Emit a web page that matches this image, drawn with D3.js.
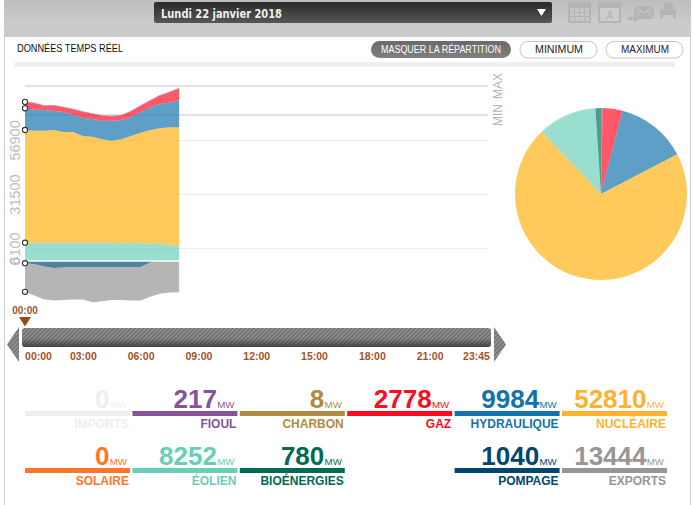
<!DOCTYPE html>
<html>
<head>
<meta charset="utf-8">
<script src="https://d3js.org/d3.v7.min.js"></script>
<style>
body { margin: 0; background: #fff; }
svg { display: block; }
text { font-family: "Liberation Sans", Arial, sans-serif; }
.thin { font-family: "Liberation Sans", sans-serif; }
.domain { display: none; }
</style>
</head>
<body>
<div id="chart"></div>
<script>
// half-hourly values 00:00 -> 08:00 (MW)
var hours = [0,0.5,1,1.5,2,2.5,3,3.5,4,4.5,5,5.5,6,6.5,7,7.5,8];
var eolien = [8600,8600,8600,8600,8600,8600,8600,8600,8600,8600,8320,8600,8460,8180,7990,7520,7050];
var nucleaire = [52970,52640,52640,52970,52030,52030,50150,49820,48600,47940,48880,50150,51840,53390,54380,55320,55790];
var hydraulique = [10200,9870,9730,8930,9400,7990,8460,8320,8740,9400,9070,8790,9730,10670,11560,11560,12830];
var gaz = [3000,3070,1990,2600,2270,2740,2930,2460,2320,2130,2130,2885,2930,3210,3870,4950,5560];
var fioul = [217,217,217,217,217,217,217,217,217,217,217,217,217,217,217,217,217];
var pompage = [1040,1550,2580,3250,3050,2820,2820,2820,2820,2820,2820,2820,2820,700,0,0,0];
var exportsMw = [13444,14660,15510,15310,15280,15270,15270,16590,16120,15510,15510,15740,15740,16080,15370,14805,14710];

// repartition at the cursor
var pieNames = ["Fioul","Charbon","Gaz","Hydraulique","Nucléaire","Solaire","Éolien","Bioénergies"];
var pieValues = [217,8,2778,9984,52810,0,8252,780];
var pieColors = ["#855399","#AE8B3F","#FF0A22","#1272AC","#FFB00E","#FF7628","#69CEB8","#006A55"];

// tiles under the chart
var tileLabels = ["IMPORTS","FIOUL","CHARBON","GAZ","HYDRAULIQUE","NUCLÉAIRE","SOLAIRE","ÉOLIEN","BIOÉNERGIES","POMPAGE","EXPORTS"];
var tileValues = [0,217,8,2778,9984,52810,0,8252,780,1040,13444];
var tileColors = ["#EEEEEE","#855399","#AE8B3F","#FF0A22","#1272AC","#FFB231","#FF7628","#69CEB8","#006A55","#00466F","#969696"];
var tileCols = [0,1,2,3,4,5,0,1,2,4,5];
var tileRows = [0,0,0,0,0,0,1,1,1,1,1];

var yTicks = [0,6100,31500,56900];
var minValue = 68600, maxValue = 82250;
var timeTicks = [0,3,6,9,12,15,18,21,23.75];
var timeLabels = ["00:00","03:00","06:00","09:00","12:00","15:00","18:00","21:00","23:45"];
var pageTitle = "DONNÉES TEMPS RÉEL";
var dateLabel = "Lundi 22 janvier 2018";

var svg = d3.select("#chart").append("svg").attr("width", 694).attr("height", 505);
var defs = svg.append("defs");

var headGrad = defs.append("linearGradient").attr("id","head").attr("x2","0%").attr("y2","100%");
headGrad.append("stop").attr("offset","0%").attr("stop-color","#bdbdbd");
headGrad.append("stop").attr("offset","60%").attr("stop-color","#cbcbcb");
var dateGrad = defs.append("linearGradient").attr("id","dategrad").attr("x2","0%").attr("y2","100%");
dateGrad.append("stop").attr("offset","0%").attr("stop-color","#2a2a2a");
dateGrad.append("stop").attr("offset","100%").attr("stop-color","#565656");
var btnGrad = defs.append("linearGradient").attr("id","btngrad").attr("x2","0%").attr("y2","100%");
btnGrad.append("stop").attr("offset","0%").attr("stop-color","#6a6a6a");
btnGrad.append("stop").attr("offset","100%").attr("stop-color","#808080");
var stripes = defs.append("pattern").attr("id","stripes").attr("width",3).attr("height",3)
    .attr("patternUnits","userSpaceOnUse").attr("patternTransform","rotate(-45)");
stripes.append("rect").attr("width",3).attr("height",3).attr("fill","#9a9a9a");
stripes.append("rect").attr("width",3).attr("height",1.5).attr("fill","#6c6c6c");
var shade = defs.append("linearGradient").attr("id","shade").attr("x2","0%").attr("y2","100%");
shade.append("stop").attr("offset","0%").attr("stop-color","#000").attr("stop-opacity",0);
shade.append("stop").attr("offset","55%").attr("stop-color","#000").attr("stop-opacity",0.05);
shade.append("stop").attr("offset","100%").attr("stop-color","#000").attr("stop-opacity",0.5);

// page frame and header
svg.append("rect").attr("x",4).attr("y",0).attr("width",1).attr("height",505).attr("fill","#cfcfcf");
svg.append("rect").attr("x",690).attr("y",0).attr("width",1).attr("height",505).attr("fill","#cfcfcf");
svg.append("rect").attr("x",4).attr("y",0).attr("width",687).attr("height",37).attr("fill","url(#head)");
svg.append("rect").attr("x",154).attr("y",2).attr("width",398).attr("height",21).attr("rx",2).attr("fill","url(#dategrad)");
svg.append("text").attr("x",161).attr("y",18).attr("font-size",11.5).attr("font-weight","bold")
    .attr("fill","#f0f0f0").style("font-family","'DejaVu Sans'").attr("textLength",121)
    .attr("lengthAdjust","spacingAndGlyphs").text(dateLabel);
svg.append("path").attr("d","M537 9h9l-4.5 7z").attr("fill","#fff");

// toolbar icons
var icons = svg.append("g").attr("fill","#b4b4b4");
icons.append("rect").attr("x",568).attr("y",2).attr("width",23).attr("height",21).attr("rx",1.5);
icons.append("path").attr("d","M570 8h19v13h-19z").attr("fill","#c6c6c6");
[574,579,584].forEach(function(d){ icons.append("rect").attr("x",d).attr("y",8).attr("width",1).attr("height",13); });
[12,16].forEach(function(d){ icons.append("rect").attr("x",570).attr("y",d).attr("width",19).attr("height",1); });
icons.append("rect").attr("x",598).attr("y",2).attr("width",23).attr("height",21).attr("rx",1.5);
icons.append("path").attr("d","M600 8h19v13h-19z").attr("fill","#cdcdcd");
icons.append("text").attr("x",609.5).attr("y",19).attr("text-anchor","middle").attr("font-size",10).attr("font-weight","bold").text("A");
icons.append("path").attr("d","M634 6h20v13h-20z");
icons.append("path").attr("d","M634 6l10 7 10-7M634 19l7-8M654 19l-7-8").attr("fill","none").attr("stroke","#cbcbcb");
icons.append("path").attr("d","M628 17h6v-3l5 4.500-5 4.500v-3h-6z");
icons.append("rect").attr("x",664).attr("y",3).attr("width",9).attr("height",6);
icons.append("rect").attr("x",660).attr("y",9).attr("width",16).attr("height",9).attr("rx",1);
icons.append("rect").attr("x",663).attr("y",15).attr("width",10).attr("height",4).attr("fill","#c9c9c9");

// title line and buttons
svg.append("text").attr("class","thin").attr("x",17).attr("y",52).attr("font-size",11.5)
    .attr("fill","#111").attr("textLength",106).attr("lengthAdjust","spacingAndGlyphs").text(pageTitle);
svg.append("rect").attr("x",15).attr("y",62).attr("width",660).attr("height",5).attr("fill","#eeeeee");

svg.append("rect").attr("x",371).attr("y",41).attr("width",140).attr("height",17).attr("rx",8.5).attr("fill","url(#btngrad)");
svg.append("text").attr("class","thin").attr("x",441).attr("y",53).attr("text-anchor","middle").attr("font-size",11)
    .attr("fill","#fff").attr("textLength",120).attr("lengthAdjust","spacingAndGlyphs").text("MASQUER LA RÉPARTITION");
[["MINIMUM",520,559],["MAXIMUM",606,645]].forEach(function(b){
    svg.append("rect").attr("x",b[1]).attr("y",41.5).attr("width",77).attr("height",16.5).attr("rx",8)
        .attr("fill","#fff").attr("stroke","#c4c4c4");
    svg.append("text").attr("class","thin").attr("x",b[2]).attr("y",53).attr("text-anchor","middle").attr("font-size",11)
        .attr("fill","#222").attr("textLength",48).attr("lengthAdjust","spacingAndGlyphs").text(b[0]);
});

// scales
var x = d3.scaleLinear().domain([0,23.75]).range([25,482.6]);
var y = d3.scaleLinear().domain([0,maxValue]).range([261,86]);

// grid lines + rotated tick labels
var yAxis = d3.axisLeft(y).tickValues(yTicks).tickSize(-463).tickPadding(0).tickFormat(d3.format("d"));
var gAxis = svg.append("g").attr("transform","translate(25,0)").call(yAxis);
gAxis.selectAll(".tick line").attr("stroke", function(d){ return d==0 ? "none" : "#ececec"; });
gAxis.selectAll(".tick text")
    .attr("transform", "rotate(-90)")
    .attr("x", 0).attr("y", -5).attr("dy", 0)
    .attr("text-anchor","middle")
    .attr("font-size",14.5).attr("fill","#bdbdbd")
    .style("font-family","'Liberation Sans'");

var limits = svg.append("g");
[[minValue,"MIN"],[maxValue,"MAX"]].forEach(function(l){
    limits.append("line").attr("x1",25).attr("x2",488).attr("y1",y(l[0])).attr("y2",y(l[0])).attr("stroke","#c8c8c8");
    limits.append("text").attr("class","thin")
        .attr("transform","translate(502,"+y(l[0])+") rotate(-90)")
        .attr("text-anchor","middle").attr("font-size",12).attr("fill","#b4b4b4").text(l[1]);
});

// stacked production areas
var table = hours.map(function(h,i){
    return {hour:h, eolien:eolien[i], nucleaire:nucleaire[i], hydraulique:hydraulique[i], gaz:gaz[i], fioul:fioul[i],
            pompage:-pompage[i], exports:-exportsMw[i]};
});
var keys = ["eolien","nucleaire","hydraulique","gaz","fioul","pompage","exports"];
var areaColor = d3.scaleOrdinal().domain(keys)
    .range(["#69CEB8","#FFB00E","#1272AC","#FF0A22","#855399","#00466F","#969696"]);
var stacked = d3.stack().keys(keys).offset(d3.stackOffsetDiverging)(table);
var area = d3.area()
    .x(function(d){ return x(d.data.hour); })
    .y0(function(d){ return y(d[0]); })
    .y1(function(d){ return y(d[1]); });

svg.append("g").selectAll("path").data(stacked).enter().append("path")
    .attr("d", area)
    .attr("fill", function(d){ return areaColor(d.key); })
    .attr("fill-opacity", function(d){ return d.key=="exports" ? 0.7 : 0.68; });

// white zero line
svg.append("line").attr("x1",x(0)).attr("x2",x(8)).attr("y1",y(0)).attr("y2",y(0))
    .attr("stroke","#fff").attr("stroke-width",1.6);

// markers at the cursor
svg.append("g").selectAll("circle")
    .data(stacked.filter(function(d){ return d.key!="fioul"; }))
    .enter().append("circle")
    .attr("cx", x(0))
    .attr("cy", function(d){ return d.key=="pompage" || d.key=="exports" ? y(d[0][0]) : y(d[0][1]); })
    .attr("r", 2.6)
    .attr("fill","#fff").attr("stroke","#333").attr("stroke-width",1.1);

// pie
var pieCenter = svg.append("g").attr("transform","translate(601,194)");
var pie = d3.pie().sort(null)(pieValues);
var arc = d3.arc().innerRadius(0).outerRadius(86);
pieCenter.selectAll("path").data(pie).enter().append("path")
    .attr("d", arc)
    .attr("fill", function(d,i){ return pieColors[i]; })
    .attr("fill-opacity",0.68);

// timeline
svg.append("rect").attr("x",22).attr("y",328).attr("width",469).attr("height",19).attr("rx",3).attr("fill","url(#stripes)");
svg.append("rect").attr("x",22).attr("y",328).attr("width",469).attr("height",19).attr("rx",3).attr("fill","url(#shade)");
svg.append("path").attr("d","M19 327v35l-12-17.5z").attr("fill","url(#stripes)");
svg.append("path").attr("d","M494 327v35l12-17.5z").attr("fill","url(#stripes)");

var timeAxis = d3.axisBottom(x).tickValues(timeTicks).tickSize(0).tickPadding(0)
    .tickFormat(function(d,i){ return timeLabels[i]; });
var gTime = svg.append("g").attr("transform","translate(0,352.5)").call(timeAxis);
gTime.selectAll("text")
    .attr("font-size",10.5).attr("font-weight","bold").attr("fill","#A5521F")
    .attr("dx", function(d,i){ return i==0 ? 13 : (i==timeTicks.length-1 ? -6.6 : 0); });

svg.append("text").attr("x",x(0)).attr("y",314).attr("text-anchor","middle")
    .attr("font-size",10).attr("font-weight","bold").attr("fill","#9C5530").text(timeLabels[0]);
svg.append("path").attr("d","M"+(x(0)-6)+" 317h12l-6 9.5z").attr("fill","#964B14");

// value tiles
var colX = d3.scalePoint().domain([0,1,2,3,4,5]).range([25,562]);
var rowY = d3.scalePoint().domain([0,1]).range([411,468]);
var tiles = svg.append("g").selectAll("g").data(tileLabels).enter().append("g")
    .attr("transform", function(d,i){ return "translate("+colX(tileCols[i])+","+rowY(tileRows[i])+")"; });
tiles.append("rect").attr("width",105).attr("height",5)
    .attr("fill", function(d,i){ return tileColors[i]; });
tiles.append("text").attr("x",84.5).attr("y",-3.5).attr("text-anchor","end")
    .attr("font-size",26).attr("font-weight","bold")
    .attr("fill", function(d,i){ return tileColors[i]; })
    .text(function(d,i){ return tileValues[i]; });
tiles.append("text").attr("x",84.8).attr("y",-3.5)
    .attr("font-size",9.7)
    .attr("fill", function(d,i){ return tileColors[i]; })
    .text("MW");
tiles.append("text").attr("x",104).attr("y",17).attr("text-anchor","end")
    .attr("font-size",12).attr("font-weight","bold")
    .attr("fill", function(d,i){ return tileColors[i]; })
    .text(function(d){ return d; });
</script>
</body>
</html>
